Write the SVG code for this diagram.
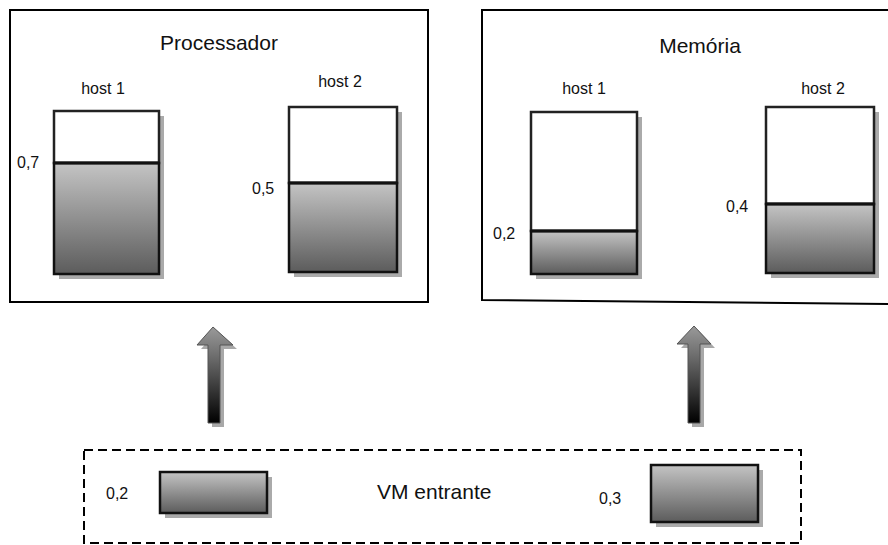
<svg xmlns="http://www.w3.org/2000/svg" width="888" height="545" viewBox="0 0 888 545">
<defs>
<linearGradient id="g" x1="0" y1="0" x2="0" y2="1">
<stop offset="0" stop-color="#c4c4c4"/>
<stop offset="1" stop-color="#5c5c5c"/>
</linearGradient>
<linearGradient id="ga" x1="0" y1="0" x2="0" y2="1">
<stop offset="0" stop-color="#9a9a9a"/>
<stop offset="0.3" stop-color="#6e6e6e"/>
<stop offset="1" stop-color="#000"/>
</linearGradient>
<style>
text{font-family:"Liberation Sans",Arial,sans-serif;fill:#111}
.big{font-size:21px}
.lbl{font-size:16px}
.frame{fill:#fff;stroke:#000;stroke-width:2}
.sh{fill:#aaa}
.empty{fill:#fff;stroke:#222;stroke-width:2.5}
.full{fill:url(#g);stroke:#111;stroke-width:2.5}
.div{stroke:#111;stroke-width:3}
.arrow{fill:url(#ga);stroke:#555;stroke-width:1}
.ash{fill:#a8a8a8}
</style>
</defs>
<rect width="888" height="545" fill="#fff"/>

<g id="processador">
<rect class="frame" x="10" y="10" width="418" height="292"/>
<text class="big" x="219" y="50" text-anchor="middle">Processador</text>
</g>
<g id="proc-host1">
<text class="lbl" x="103" y="94" text-anchor="middle">host 1</text>
<rect class="sh" x="59" y="116" width="105" height="163"/>
<rect class="empty" x="54" y="111" width="105" height="52"/>
<rect class="full" x="54" y="163" width="105" height="111"/>
<line class="div" x1="54" y1="163" x2="159" y2="163"/>
<text class="lbl" x="17" y="168">0,7</text>
</g>
<g id="proc-host2">
<text class="lbl" x="340" y="87" text-anchor="middle">host 2</text>
<rect class="sh" x="294" y="112" width="108" height="165"/>
<rect class="empty" x="289" y="107" width="108" height="76"/>
<rect class="full" x="289" y="183" width="108" height="89"/>
<line class="div" x1="289" y1="183" x2="397" y2="183"/>
<text class="lbl" x="252" y="194">0,5</text>
</g>

<g id="memoria">
<path d="M888,10 L482,10 L482,300 L888,304" fill="#fff" stroke="#000" stroke-width="2"/>
<text class="big" x="700" y="53" text-anchor="middle">Memória</text>
</g>
<g id="mem-host1">
<text class="lbl" x="584" y="94" text-anchor="middle">host 1</text>
<rect class="sh" x="536" y="117" width="106" height="162"/>
<rect class="empty" x="531" y="112" width="106" height="119"/>
<rect class="full" x="531" y="231" width="106" height="43"/>
<line class="div" x1="531" y1="231" x2="637" y2="231"/>
<text class="lbl" x="493" y="239">0,2</text>
</g>
<g id="mem-host2">
<text class="lbl" x="823" y="94" text-anchor="middle">host 2</text>
<rect class="sh" x="771" y="112" width="108" height="166"/>
<rect class="empty" x="766" y="107" width="108" height="97"/>
<rect class="full" x="766" y="204" width="108" height="69"/>
<line class="div" x1="766" y1="204" x2="874" y2="204"/>
<text class="lbl" x="726" y="212">0,4</text>
</g>

<g id="connectors">
<polygon class="ash" points="217,331 237,349 224,349 224,427 212,427 212,349 201,349"/>
<polygon class="arrow" points="213,327 233,345 220,345 220,423 208,423 208,345 197,345"/>
<polygon class="ash" points="698,330 715,348 704,348 704,427 692,427 692,348 681,348"/>
<polygon class="arrow" points="694,326 711,344 700,344 700,423 688,423 688,344 677,344"/>
</g>

<g id="vm-entrante">
<rect x="84" y="450" width="717" height="93" fill="none" stroke="#000" stroke-width="2" stroke-dasharray="9,5"/>
<text class="big" x="377" y="499">VM entrante</text>
</g>
<g id="vm-cpu">
<rect class="sh" x="165" y="477" width="107" height="41"/>
<rect class="full" x="160" y="472" width="107" height="41"/>
<text class="lbl" x="106" y="499">0,2</text>
</g>
<g id="vm-mem">
<rect class="sh" x="656" y="470" width="107" height="57"/>
<rect class="full" x="651" y="465" width="107" height="57"/>
<text class="lbl" x="599" y="504">0,3</text>
</g>
</svg>
